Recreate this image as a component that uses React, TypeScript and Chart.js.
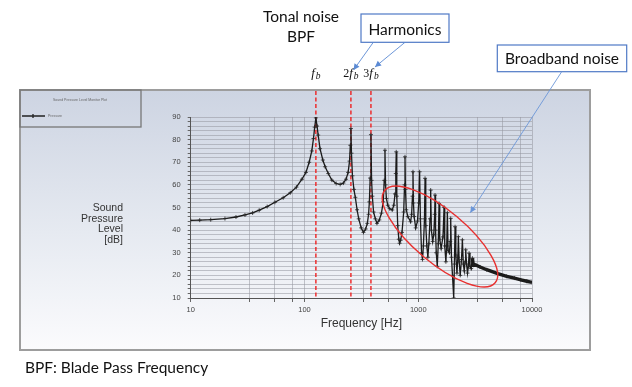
import React, { useEffect, useRef } from "react";
import { Chart, registerables } from "chart.js";

Chart.register(...registerables);

// ---- data ----
const freqHz = [
  10, 12, 15, 20, 25, 30, 35, 40, 47, 55,
  65, 75, 85, 95, 103, 110, 116, 120, 123, 126,
  129, 132, 137, 145, 152, 162, 174, 190, 206, 220,
  232, 242, 249, 253, 256, 259, 264, 272, 280, 290,
  300, 315, 330, 345, 357, 366, 372, 378, 384, 389,
  395, 405, 420, 434, 455, 475, 492, 503, 510, 516,
  525, 540, 560, 591, 610, 625, 635, 641, 648, 660,
  675, 686, 700, 720, 745, 758, 765, 772, 785, 810,
  857, 875, 890, 899, 908, 920, 950, 985, 1010, 1028,
  1045, 1070, 1090, 1110, 1135, 1148, 1165, 1190, 1215, 1240,
  1270, 1286, 1305, 1340, 1370, 1395, 1405, 1420, 1440, 1470,
  1500, 1524, 1545, 1590, 1650, 1687, 1710, 1750, 1780, 1803,
  1830, 1880, 1910, 1929, 1960, 2000, 2050, 2080, 2108, 2140,
  2190, 2230, 2254, 2290, 2340, 2400, 2444, 2490, 2540, 2580,
  2613, 2660, 2710, 2760, 2800, 2850, 2920, 2993, 3050, 3200,
  3500, 4000, 5000, 6000, 7000, 8000, 9000, 10000,
];
const splDb = [
  44.3, 44.4, 44.6, 45.1, 45.8, 46.7, 47.6, 48.8, 50.4, 52.3,
  54.3, 56.5, 59.0, 62.5, 65.5, 70.0, 75.0, 80.5, 85.5, 89.6,
  86.0, 82.0, 76.0, 71.0, 68.0, 65.0, 62.1, 60.6, 60.2, 60.8,
  62.5, 65.5, 70.5, 77.5, 84.9, 74.0, 64.0, 58.0, 54.5, 49.0,
  45.0, 41.0, 39.0, 40.5, 43.0, 47.0, 52.5, 63.0, 82.2, 62.0,
  55.0, 48.0, 45.0, 43.0, 44.5, 47.5, 52.5, 62.0, 75.3, 60.0,
  54.0, 51.0, 49.5, 48.9, 51.0, 56.0, 65.0, 74.6, 55.0, 42.0,
  36.0, 34.2, 35.5, 39.0, 48.0, 60.0, 72.4, 58.0, 49.0, 46.0,
  43.7, 47.0, 55.0, 65.8, 52.0, 46.0, 41.0, 44.0, 52.0, 65.8,
  45.0, 30.0, 27.0, 33.0, 45.0, 62.9, 42.0, 33.0, 28.0, 34.0,
  45.0, 57.7, 40.0, 35.0, 38.0, 47.0, 55.5, 40.0, 30.0, 24.0,
  34.0, 51.8, 36.0, 32.0, 37.0, 50.1, 33.0, 26.0, 33.0, 47.7,
  31.0, 30.0, 35.0, 45.2, 28.0, 20.0, 10.0, 25.0, 41.5, 29.0,
  21.0, 28.0, 37.1, 26.0, 20.0, 27.0, 35.7, 25.0, 22.0, 26.0,
  31.3, 25.0, 21.0, 24.0, 29.8, 24.0, 23.0, 27.6, 24.5, 24.6,
  23.7, 22.5, 20.8, 19.6, 18.8, 18.0, 17.4, 16.9,
];
const bpfHarmonics = [126, 256, 384];
const bpfPrefixes = ["", "2", "3"];
const xGridValues = [10, 33, 55, 79, 100, 330, 550, 790, 1000, 3300, 5500, 7900, 10000];
const xTickLabels = [10, 100, 1000, 10000];
const yTickLabels = [10, 20, 30, 40, 50, 60, 70, 80, 90];
const yTitleLines = ["Sound", "Pressure", "Level", "[dB]"];

const SANS = '"Liberation Sans", Arial, sans-serif';
const CAL = 'Lato, "Open Sans", sans-serif';
const SERIF = '"Liberation Serif", "DejaVu Serif", serif';

function arrow(ctx: CanvasRenderingContext2D, x1: number, y1: number, x2: number, y2: number, color: string) {
  ctx.save();
  ctx.strokeStyle = color;
  ctx.fillStyle = color;
  ctx.lineWidth = 0.9;
  ctx.beginPath();
  ctx.moveTo(x1, y1);
  ctx.lineTo(x2, y2);
  ctx.stroke();
  const a = Math.atan2(y2 - y1, x2 - x1);
  const L = 6, W = 3;
  ctx.beginPath();
  ctx.moveTo(x2, y2);
  ctx.lineTo(x2 - L * Math.cos(a) + W * Math.sin(a), y2 - L * Math.sin(a) - W * Math.cos(a));
  ctx.lineTo(x2 - L * Math.cos(a) - W * Math.sin(a), y2 - L * Math.sin(a) + W * Math.cos(a));
  ctx.closePath();
  ctx.fill();
  ctx.restore();
}

const decorPlugin = {
  id: "decor",
  beforeDraw(chart: any) {
    const ctx: CanvasRenderingContext2D = chart.ctx;
    ctx.save();
    ctx.fillStyle = "#ffffff";
    ctx.fillRect(0, 0, chart.width, chart.height);
    const g = ctx.createLinearGradient(0, 90, 0, 350);
    g.addColorStop(0, "#cdd4e2");
    g.addColorStop(0.55, "#e6eaf1");
    g.addColorStop(1, "#fbfbfd");
    ctx.fillStyle = g;
    ctx.fillRect(20, 90, 570, 260);
    ctx.strokeStyle = "#9d9d9d";
    ctx.lineWidth = 2;
    ctx.strokeRect(20, 90, 570, 260);
    // legend box
    ctx.strokeStyle = "#777777";
    ctx.lineWidth = 1.3;
    ctx.strokeRect(20, 90, 121, 37);
    ctx.fillStyle = "#666";
    ctx.font = `3.5px ${SANS}`;
    ctx.textAlign = "center";
    ctx.textBaseline = "middle";
    ctx.fillText("Sound Pressure Level Monitor Plot", 80, 100);
    ctx.textAlign = "left";
    ctx.fillText("Pressure", 48, 116);
    ctx.strokeStyle = "#222";
    ctx.lineWidth = 1.3;
    ctx.beginPath();
    ctx.moveTo(22, 116);
    ctx.lineTo(45, 116);
    ctx.moveTo(33, 114);
    ctx.lineTo(33, 118);
    ctx.stroke();
    ctx.restore();
  },
  beforeDatasetsDraw(chart: any) {
    const ctx: CanvasRenderingContext2D = chart.ctx;
    const xs = chart.scales.x;
    const area = chart.chartArea;
    ctx.save();
    ctx.strokeStyle = "#ee2222";
    ctx.lineWidth = 1.4;
    ctx.setLineDash([4, 2.5]);
    bpfHarmonics.forEach((f) => {
      const x = xs.getPixelForValue(f);
      ctx.beginPath();
      ctx.moveTo(x, 91);
      ctx.lineTo(x, area.bottom);
      ctx.stroke();
    });
    ctx.restore();
  },
  afterDraw(chart: any) {
    const ctx: CanvasRenderingContext2D = chart.ctx;
    const xs = chart.scales.x;
    const area = chart.chartArea;
    ctx.save();
    // axis titles
    ctx.fillStyle = "#333";
    ctx.font = `10.5px ${SANS}`;
    ctx.textAlign = "right";
    ctx.textBaseline = "alphabetic";
    yTitleLines.forEach((t, i) => ctx.fillText(t, 123, 210.7 + i * 10.8));
    ctx.font = `12px ${SANS}`;
    ctx.textAlign = "center";
    ctx.fillText("Frequency [Hz]", (area.left + area.right) / 2, 327);

    // f_b labels
    bpfHarmonics.forEach((f, i) => {
      const cx = xs.getPixelForValue(f);
      const pre = bpfPrefixes[i];
      ctx.font = `12px ${SERIF}`;
      const wPre = pre ? ctx.measureText(pre).width : 0;
      ctx.font = `italic 13px ${SERIF}`;
      const wF = ctx.measureText("f").width + 1;
      ctx.font = `italic 9.5px ${SERIF}`;
      const wB = ctx.measureText("b").width;
      let x = cx - (wPre + wF + wB) / 2;
      ctx.fillStyle = "#111";
      ctx.textAlign = "left";
      if (pre) {
        ctx.font = `12px ${SERIF}`;
        ctx.fillText(pre, x, 77);
        x += wPre;
      }
      ctx.font = `italic 13px ${SERIF}`;
      ctx.fillText("f", x, 77);
      x += wF;
      ctx.font = `italic 9.5px ${SERIF}`;
      ctx.fillText("b", x, 78.5);
    });

    // Tonal noise / BPF
    ctx.fillStyle = "#111";
    ctx.font = `15.5px ${CAL}`;
    ctx.textAlign = "center";
    ctx.fillText("Tonal noise", 301, 22);
    ctx.fillText("BPF", 301, 42);

    // Harmonics box
    ctx.fillStyle = "#ffffff";
    ctx.fillRect(361, 14, 88, 28.3);
    ctx.strokeStyle = "#4f79c6";
    ctx.lineWidth = 1.2;
    ctx.strokeRect(361, 14, 88, 28.3);
    ctx.fillStyle = "#111";
    ctx.fillText("Harmonics", 405, 34.5);
    arrow(ctx, 373.3, 42.3, 353.5, 70, "#5b8ad4");
    arrow(ctx, 405, 42.3, 375, 67, "#5b8ad4");

    // Broadband noise box
    ctx.fillStyle = "#ffffff";
    ctx.fillRect(497.3, 45, 129.4, 26.7);
    ctx.strokeStyle = "#4f79c6";
    ctx.strokeRect(497.3, 45, 129.4, 26.7);
    ctx.fillStyle = "#111";
    ctx.fillText("Broadband noise", 562, 63.5);
    arrow(ctx, 561.7, 71.7, 470.3, 212.7, "#6b96d8");

    // red ellipse
    ctx.strokeStyle = "#e8302f";
    ctx.lineWidth = 1.4;
    ctx.beginPath();
    ctx.ellipse(440, 236.5, 72, 26, (40 * Math.PI) / 180, 0, Math.PI * 2);
    ctx.stroke();

    // footnote
    ctx.fillStyle = "#111";
    ctx.textAlign = "left";
    ctx.font = `15.5px ${CAL}`;
    ctx.fillText("BPF: Blade Pass Frequency", 25, 373.3);
    ctx.restore();
  },
};

export default function App() {
  const ref = useRef<HTMLCanvasElement | null>(null);
  useEffect(() => {
    if (!ref.current) return;
    document.body.style.margin = "0";
    const points = freqHz.map((f, i) => ({ x: f, y: splDb[i] }));
    const gridColor = "rgba(150,152,160,0.55)";
    const chart = new Chart(ref.current, {
      type: "line",
      data: {
        datasets: [
          {
            label: "Pressure",
            data: points,
            borderColor: "#1a1a1a",
            borderWidth: 1.3,
            pointStyle: "cross",
            pointRadius: 2,
            pointBorderWidth: 0.8,
            pointBorderColor: "#222",
            tension: 0,
            segment: {
              borderWidth: (c: any) => (c.p0.parsed.x >= 2990 ? 3.4 : 1.3),
            },
          } as any,
        ],
      },
      options: {
        animation: false,
        responsive: false,
        events: [],
        layout: { padding: { left: 0, right: 100, top: 117, bottom: 0 } },
        plugins: { legend: { display: false }, tooltip: { enabled: false } },
        scales: {
          x: {
            type: "logarithmic",
            min: 10,
            max: 10000,
            afterBuildTicks: (axis: any) => {
              axis.ticks = xGridValues.map((v) => ({ value: v }));
            },
            afterFit: (s: any) => {
              s.height = 89;
            },
            ticks: {
              autoSkip: false,
              maxRotation: 0,
              minRotation: 0,
              padding: 3,
              color: "#444",
              font: { family: SANS, size: 7.5 },
              callback: (v: any) => (xTickLabels.includes(Number(v)) ? String(v) : ""),
            },
            grid: { color: gridColor, lineWidth: 1, tickLength: 4, tickColor: "#666" },
            border: { display: true, color: "#555", width: 1 },
          },
          y: {
            type: "linear",
            min: 10,
            max: 90,
            afterFit: (s: any) => {
              s.width = 190.7;
            },
            ticks: {
              stepSize: 2,
              autoSkip: false,
              padding: 7,
              color: "#444",
              font: { family: SANS, size: 7.5 },
              callback: (v: any) => (yTickLabels.includes(Number(v)) ? String(v) : ""),
            },
            grid: { color: gridColor, lineWidth: 1, tickLength: 3, tickColor: "#666" },
            border: { display: true, color: "#555", width: 1 },
          },
        },
      },
      plugins: [decorPlugin],
    });
    return () => chart.destroy();
  }, []);
  return (
    <div style={{ position: "fixed", left: 0, top: 0, width: 632, height: 387 }}>
      <canvas ref={ref} width={632} height={387} style={{ display: "block" }} />
    </div>
  );
}
